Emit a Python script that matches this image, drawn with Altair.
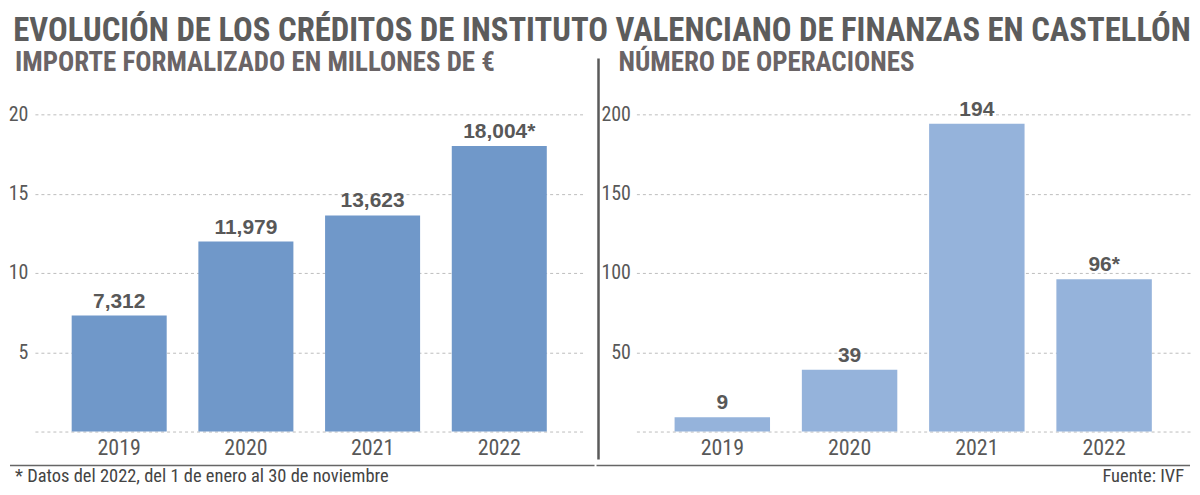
import altair as alt
import pandas as pd

# ---- data ----
years = ["2019", "2020", "2021", "2022"]
importe = [7.312, 11.979, 13.623, 18.004]
importe_labels = ["7,312", "11,979", "13,623", "18,004*"]
operaciones = [9, 39, 194, 96]
operaciones_labels = ["9", "39", "194", "96*"]

title_text = "EVOLUCIÓN DE LOS CRÉDITOS DE INSTITUTO VALENCIANO DE FINANZAS EN CASTELLÓN"
subtitle_left = "IMPORTE FORMALIZADO EN MILLONES DE €"
subtitle_right = "NÚMERO DE OPERACIONES"
note_text = "* Datos del 2022, del 1 de enero al 30 de noviembre"
source_text = "Fuente: IVF"

left_ticks = [0, 5, 10, 15, 20]
right_ticks = [0, 50, 100, 150, 200]

COND = "Roboto Condensed, Liberation Sans Narrow, DejaVu Sans Condensed, sans-serif"
BOLD = "Liberation Sans, Arial, sans-serif"
TXT = "#585858"
SUBC = "#6a6466"
PH = 318

df_left = pd.DataFrame({"year": years, "value": importe, "label": importe_labels})
df_right = pd.DataFrame({"year": years, "value": operaciones, "label": operaciones_labels})

one = alt.Data(values=[{}])


def txt(text, x, y, size, weight="normal", color=TXT, align="left"):
    return alt.Chart(one).mark_text(
        align=align, baseline="alphabetic", font=COND, fontSize=size,
        fontWeight=weight, color=color,
    ).encode(x=alt.value(x), y=alt.value(y), text=alt.value(text))


def rule(x, x2=None, y=None, y2=None, width=1.5, color="#666666"):
    enc = {"x": alt.value(x), "y": alt.value(y)}
    if x2 is not None:
        enc["x2"] = alt.value(x2)
    if y2 is not None:
        enc["y2"] = alt.value(y2)
    return alt.Chart(one).mark_rule(color=color, strokeWidth=width).encode(**enc)


def panel(df, width, domain, ticks, color, po, lab_pad, extras):
    base = alt.Chart(df)
    xenc = alt.X(
        "year:N",
        scale=alt.Scale(paddingInner=0.25, paddingOuter=po),
        axis=alt.Axis(
            domain=False, ticks=False, labelAngle=0, labelFont=COND,
            labelFontSize=22, labelColor=TXT, labelPadding=6, title=None,
        ),
    )
    yenc = alt.Y(
        "value:Q",
        scale=alt.Scale(domain=domain, nice=False),
        axis=alt.Axis(
            values=ticks, domain=False, ticks=False, title=None,
            labelFont=COND, labelFontSize=20, labelColor=TXT,
            labelPadding=lab_pad, labelExpr="datum.value == 0 ? '' : datum.label",
            grid=True, gridDash=[3, 3], gridColor="#bdbdbd", gridWidth=1,
        ),
    )
    bars = base.mark_bar(color=color).encode(x=xenc, y=yenc)
    labels = base.mark_text(
        baseline="alphabetic", dy=-8, font=BOLD, fontWeight="bold",
        fontSize=21, color=TXT,
    ).encode(x="year:N", y="value:Q", text="label:N")
    return alt.layer(bars, labels, *extras).properties(width=width, height=PH)


left = panel(
    df_left, 550, [0, 20], left_ticks, "#7098c9", 0.29, 7,
    [
        txt(subtitle_left, -20, -43, 27, "bold", SUBC),
        txt(note_text, -20, 369, 18.5, color="#444444"),
        rule(-25, x2=561, y=352),
    ],
)
right = panel(
    df_right, 555, [0, 200], right_ticks, "#95b3db", 0.30, 6,
    [
        txt(subtitle_right, -18, -43, 27, "bold", SUBC),
        txt(source_text, 549, 369, 18.5, color="#444444", align="right"),
        rule(-40, x2=555, y=352),
        rule(-38, y=-56, y2=346, width=2.5, color="#5a5a5a"),
    ],
)

chart = alt.hconcat(left, right, spacing=0).properties(
    padding={"top": 6, "left": 0, "right": 0, "bottom": 0},
    title=alt.TitleParams(
        title_text, anchor="start", font=COND, fontSize=32.8, fontWeight="bold",
        color="#5c5c5c", offset=2, dx=5,
    ),
).configure_view(stroke=None)

chart.save("out.html", embed_options={"renderer": "svg", "actions": False})
